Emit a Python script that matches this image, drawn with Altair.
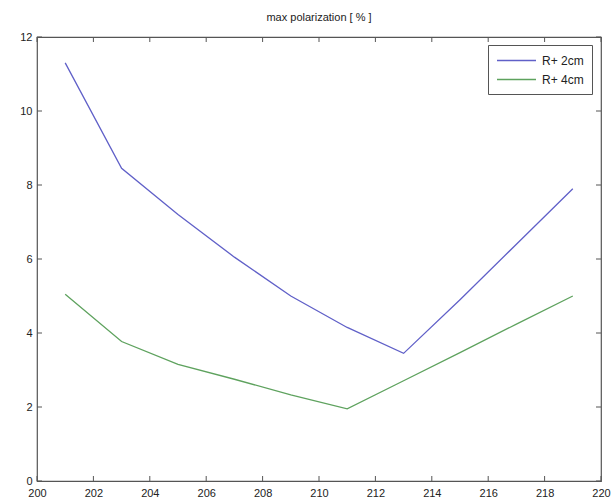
import altair as alt
import pandas as pd

# Wavelength-like abscissa (odd steps) and the two polarization series
x_vals = [201, 203, 205, 207, 209, 211, 213, 215, 217, 219]
r2cm = [11.3, 8.45, 7.2, 6.05, 5.0, 4.15, 3.45, 4.9, 6.4, 7.9]
r4cm = [5.05, 3.77, 3.15, 2.75, 2.33, 1.95, 2.71, 3.47, 4.24, 5.0]
series_names = ["R+ 2cm", "R+ 4cm"]
series_colors = ["#6060c8", "#5ea25e"]

x_ticks = [200, 202, 204, 206, 208, 210, 212, 214, 216, 218, 220]
y_ticks = [0, 2, 4, 6, 8, 10, 12]

W, H = 564, 444
TICK = 5
FONT = "Liberation Sans"

df = pd.DataFrame(
    {
        "x": x_vals * 2,
        "y": r2cm + r4cm,
        "series": [series_names[0]] * len(x_vals) + [series_names[1]] * len(x_vals),
    }
)
xt = pd.DataFrame({"x": x_ticks})
yt = pd.DataFrame({"y": y_ticks})

x_axis = alt.Axis(
    values=x_ticks, ticks=False, domain=False, grid=False, title=None,
    labelFont=FONT, labelFontSize=11, labelColor="#222", labelPadding=6,
    labelFlush=False,
)
y_axis = alt.Axis(
    values=y_ticks, ticks=False, domain=False, grid=False, title=None,
    labelFont=FONT, labelFontSize=11, labelColor="#222", labelPadding=5,
    labelFlush=False,
)
xs = alt.Scale(domain=[200, 220], nice=False, zero=False)
ys = alt.Scale(domain=[0, 12], nice=False, zero=False)

# legend swatch: a short horizontal line starting at the symbol's left edge
swatch = "M-1,0H5"

lines = alt.Chart(df).mark_line(strokeWidth=1.3).encode(
    x=alt.X("x:Q", scale=xs, axis=x_axis),
    y=alt.Y("y:Q", scale=ys, axis=y_axis),
    color=alt.Color(
        "series:N",
        scale=alt.Scale(domain=series_names, range=series_colors),
        legend=alt.Legend(
            title=None,
            orient="none",
            legendX=451,
            legendY=8,
            symbolType=swatch,
            symbolSize=169,
            symbolStrokeWidth=1.3,
            labelFont=FONT,
            labelFontSize=12,
            labelColor="#222",
            labelOffset=31,
            padding=8,
            rowPadding=5,
            strokeColor="#555",
            fillColor="white",
        ),
    ),
    detail="series:N",
)

tick_style = dict(color="#555", strokeWidth=1)

bottom_ticks = alt.Chart(xt).mark_rule(**tick_style).encode(
    x=alt.X("x:Q", scale=xs, axis=x_axis), y=alt.value(H), y2=alt.value(H - TICK)
)
top_ticks = alt.Chart(xt).mark_rule(**tick_style).encode(
    x=alt.X("x:Q", scale=xs, axis=x_axis), y=alt.value(0), y2=alt.value(TICK)
)
left_ticks = alt.Chart(yt).mark_rule(**tick_style).encode(
    y=alt.Y("y:Q", scale=ys, axis=y_axis), x=alt.value(0), x2=alt.value(TICK)
)
right_ticks = alt.Chart(yt).mark_rule(**tick_style).encode(
    y=alt.Y("y:Q", scale=ys, axis=y_axis), x=alt.value(W), x2=alt.value(W - TICK)
)

chart = (
    alt.layer(bottom_ticks, top_ticks, left_ticks, right_ticks, lines)
    .properties(
        width=W,
        height=H,
        title=alt.TitleParams(
            "max polarization [ % ]",
            font=FONT,
            fontSize=11,
            fontWeight="normal",
            color="#222",
            offset=8,
        ),
        autosize=alt.AutoSizeParams(type="none"),
        padding={"left": 37, "top": 37, "right": 14, "bottom": 23},
        background="white",
    )
    .configure_view(stroke="#555", strokeWidth=1.2)
)

chart.save("out.html", embed_options={"renderer": "svg", "actions": False})
